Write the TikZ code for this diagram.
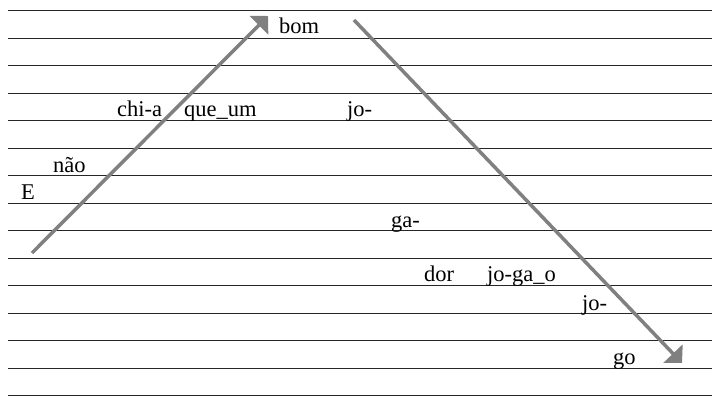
\documentclass[tikz,border=0pt]{standalone}
\usepackage{fontspec}
\setmainfont{Liberation Serif}
\usetikzlibrary{arrows.meta}

\begin{document}
\begin{tikzpicture}[
		x=1pt, y=-1pt,
		word style/.style={
			anchor=base west,
			inner sep=0pt,
			font=\fontsize{22.5}{27}\selectfont
		},
		staff line/.style={
			line width=1pt,
			black!85
		},
		melody arrow/.style={
			-{Triangle[length=13pt, width=26pt]},
			line width=3.5pt,
			draw=gray
		}
		]
		\useasboundingbox (0,0) rectangle (712,420);
		
		\foreach \i in {0,...,14}
			\draw[staff line] (8,{11+27.48*\i}) -- (712,{11+27.48*\i});
		
		\node[word style] (e) at (21,199) {E};
		\node[word style] (nao) at (53,172) {não};
		\node[word style] (chia) at (117,116) {chi-a};
		\node[word style] (queum) at (184,116) {que\_um};
		\node[word style] (bom) at (279,34) {bom};
		\node[word style] (jo1) at (347,116) {jo-};
		\node[word style] (ga) at (391,227) {ga-};
		\node[word style] (dor) at (424,281) {dor};
		\node[word style] (jogao) at (487,281) {jo-ga\_o};
		\node[word style] (jo2) at (582,310) {jo-};
		\node[word style] (go) at (613,364) {go};
		
		\coordinate (rise start) at (32,253);
		\coordinate (rise end) at (268,16);
		\coordinate (fall start) at (354,20);
		\coordinate (fall end) at (682,363);
		
		\draw[melody arrow] (rise start) -- (rise end);
		\draw[melody arrow] (fall start) -- (fall end);
		
	\end{tikzpicture}
\end{document}
